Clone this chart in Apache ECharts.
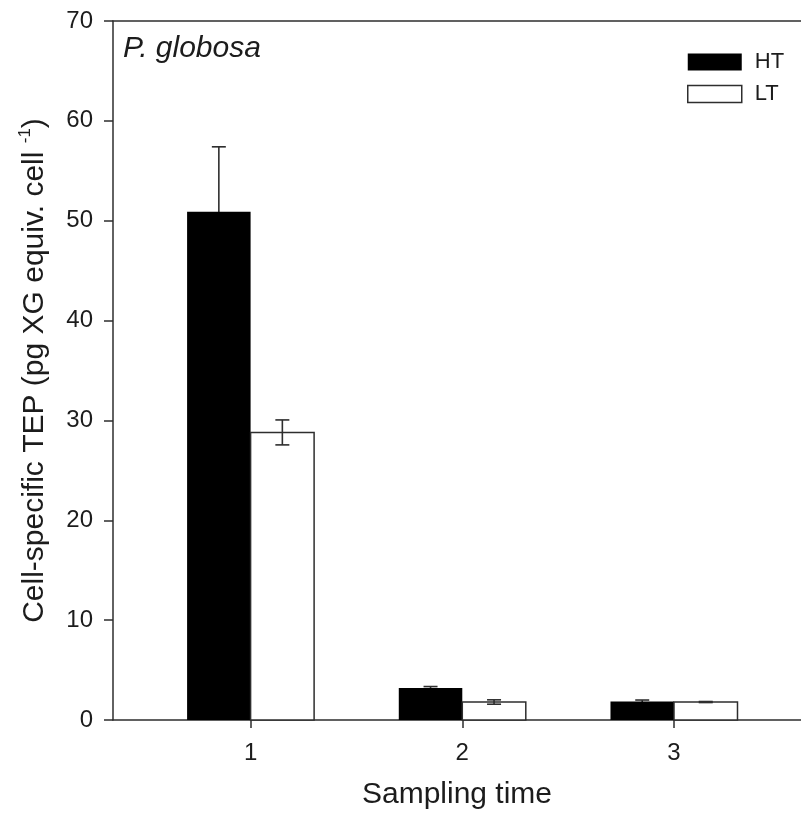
<!DOCTYPE html>
<html>
<head>
<meta charset="utf-8">
<script src="https://cdn.jsdelivr.net/npm/echarts@6/dist/echarts.min.js"></script>
<style>
  html, body { margin: 0; padding: 0; background: #fff; }
  #chart { width: 801px; height: 819px; }
</style>
</head>
<body>
<div id="chart"></div>
<script>
// Cell-specific TEP of P. globosa at three sampling times, high vs low temperature
const samplingTimes = [1, 2, 3];
const htMean = [50.9, 3.2, 1.85];
const htErr  = [6.5, 0.15, 0.15];
const ltMean = [28.8, 1.8, 1.8];
const ltErr  = [1.25, 0.22, 0.05];
const yTicks = [0, 10, 20, 30, 40, 50, 60, 70];

const FONT = '"Liberation Sans", Arial, sans-serif';
const INK = '#1c1c1c';
const LINE = '#2e2e2e';
const BAR_W = 0.3;      // bar width in x-axis units
const CAP_HALF = 7;     // half width of error caps, px

function barRenderer(offsetStart, offsetEnd) {
  return function (params, api) {
    const x = api.value(0), y = api.value(1);
    const tl = api.coord([x + offsetStart, y]);
    const br = api.coord([x + offsetEnd, 0]);
    return {
      type: 'rect',
      shape: { x: tl[0], y: tl[1], width: br[0] - tl[0], height: br[1] - tl[1] },
      style: api.style()
    };
  };
}

function errRenderer(offset) {
  return function (params, api) {
    const x = api.value(0) + offset, m = api.value(1), e = api.value(2);
    const top = api.coord([x, m + e]);
    const bot = api.coord([x, m - e]);
    const st = { stroke: LINE, lineWidth: 1.6 };
    return {
      type: 'group',
      children: [
        { type: 'line', shape: { x1: top[0], y1: top[1], x2: bot[0], y2: bot[1] }, style: st },
        { type: 'line', shape: { x1: top[0] - CAP_HALF, y1: top[1], x2: top[0] + CAP_HALF, y2: top[1] }, style: st },
        { type: 'line', shape: { x1: bot[0] - CAP_HALF, y1: bot[1], x2: bot[0] + CAP_HALF, y2: bot[1] }, style: st }
      ]
    };
  };
}

const htData = samplingTimes.map((t, i) => [t, htMean[i], htErr[i]]);
const ltData = samplingTimes.map((t, i) => [t, ltMean[i], ltErr[i]]);

const chart = echarts.init(document.getElementById('chart'), null, { renderer: 'canvas' });
chart.setOption({
  animation: false,
  backgroundColor: '#fff',
  textStyle: { fontFamily: FONT, color: INK },
  title: {
    text: 'P. globosa',
    left: 118, top: 29,
    textStyle: { fontFamily: FONT, fontStyle: 'italic', fontWeight: 'normal', fontSize: 30, color: INK }
  },
  legend: {
    orient: 'vertical',
    left: 687, top: 51, padding: 0,
    itemWidth: 54, itemHeight: 17, itemGap: 10,
    icon: 'rect',
    textStyle: { fontFamily: FONT, fontSize: 22, color: INK, padding: [0, 0, 0, 8] },
    data: [
      { name: 'HT', itemStyle: { color: '#000', borderWidth: 0 } },
      { name: 'LT', itemStyle: { color: '#fff', borderColor: LINE, borderWidth: 1.5 } }
    ]
  },
  grid: { left: 113, right: 0, top: 21, bottom: 99, containLabel: false },
  xAxis: [
    {
      type: 'value', position: 'bottom',
      min: 0.35, max: 3.6,
      name: 'Sampling time', nameLocation: 'middle', nameGap: 60,
      nameTextStyle: { fontFamily: FONT, fontSize: 30, color: INK },
      axisLine: { show: true, onZero: false, lineStyle: { color: LINE, width: 1.5 } },
      axisTick: { show: true, inside: false, length: 8, customValues: samplingTimes, lineStyle: { color: LINE, width: 1.5 } },
      axisLabel: { show: true, margin: 21, fontFamily: FONT, fontSize: 24, color: INK, customValues: samplingTimes },
      splitLine: { show: false }
    },
    {
      type: 'value', position: 'top',
      min: 0.35, max: 3.6,
      axisLine: { show: true, onZero: false, lineStyle: { color: LINE, width: 1.5 } },
      axisTick: { show: false }, axisLabel: { show: false }, splitLine: { show: false }
    }
  ],
  yAxis: {
    type: 'value',
    min: 0, max: 70, interval: 10,
    name: '{t|Cell-specific TEP (pg XG equiv. cell }{s|-1}{t|)}',
    nameLocation: 'middle', nameRotate: 90, nameGap: 60,
    nameTextStyle: {
      fontFamily: FONT, color: INK,
      rich: {
        t: { fontFamily: FONT, fontSize: 30, color: INK, lineHeight: 36 },
        s: { fontFamily: FONT, fontSize: 17, color: INK, verticalAlign: 'top', lineHeight: 36, padding: [0, 0, 16, 0] }
      }
    },
    axisLine: { show: true, lineStyle: { color: LINE, width: 1.5 } },
    axisTick: { show: true, inside: false, length: 9, lineStyle: { color: LINE, width: 1.5 } },
    axisLabel: {
      margin: 20, fontFamily: FONT, fontSize: 24, color: INK,
      customValues: yTicks
    },
    splitLine: { show: false }
  },
  series: [
    {
      name: 'HT err', type: 'custom', xAxisIndex: 0, z: 2,
      renderItem: errRenderer(-BAR_W / 2),
      encode: { x: 0, y: 1 },
      data: htData
    },
    {
      name: 'HT', type: 'custom', xAxisIndex: 0, z: 3,
      renderItem: barRenderer(-BAR_W, 0),
      itemStyle: { color: '#000' },
      encode: { x: 0, y: 1 },
      data: htData
    },
    {
      name: 'LT', type: 'custom', xAxisIndex: 0, z: 3,
      renderItem: barRenderer(0, BAR_W),
      itemStyle: { color: '#fff', borderColor: LINE, borderWidth: 1.5 },
      encode: { x: 0, y: 1 },
      data: ltData
    },
    {
      name: 'LT err', type: 'custom', xAxisIndex: 0, z: 4,
      renderItem: errRenderer(BAR_W / 2),
      encode: { x: 0, y: 1 },
      data: ltData
    }
  ]
});
</script>
</body>
</html>
